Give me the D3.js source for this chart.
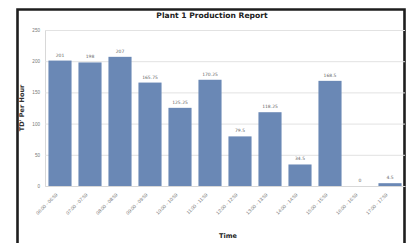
<!DOCTYPE html>
<html>
<head>
<meta charset="utf-8">
<script src="https://cdn.jsdelivr.net/npm/d3@7"></script>
<style>
  body { margin: 0; background: #fff; }
  svg { display: block; font-family: "DejaVu Sans", sans-serif; }
</style>
</head>
<body>
<svg id="chart" width="409" height="243"></svg>
<script>
const hours = ['06:00 - 06:59', '07:00 - 07:59', '08:00 - 08:59', '09:00 - 09:59', '10:00 - 10:59', '11:00 - 11:59',
               '12:00 - 12:59', '13:00 - 13:59', '14:00 - 14:59', '15:00 - 15:59', '16:00 - 16:59', '17:00 - 17:59']
const perHour = [201, 198, 207, 165.75, 125.25, 170.25, 79.5, 118.25, 34.5, 168.5, 0, 4.5]
const yTicks = [0, 50, 100, 150, 200, 250]

const svg = d3.select('#chart')
const plotLeft = 45, plotRight = 405, plotTop = 30, plotBottom = 186

// frame round the picture
svg.append('path')
    .attr('d', `M17.5,243 V9.5 H404.5 V243`)
    .attr('fill', 'none')
    .attr('stroke', '#1e1e1e')
    .attr('stroke-width', 2.6)

const xScale = d3.scaleBand()
    .domain(hours)
    .range([plotLeft, plotRight])
    .paddingInner(0.23)
    .paddingOuter(0.115)
const yScale = d3.scaleLinear()
    .domain([0, 250])
    .range([plotBottom, plotTop])

// gridlines + y labels
const yAxis = d3.axisLeft(yScale)
    .tickValues(yTicks)
    .tickSize(-(plotRight - plotLeft))
    .tickPadding(5)
svg.append('g')
    .attr('transform', `translate(${plotLeft},0)`)
    .call(yAxis)
    .call(g => g.select('.domain').attr('stroke', '#d8d8d8'))
    .call(g => g.selectAll('.tick line').attr('stroke', '#e2e2e2'))
    .call(g => g.selectAll('.tick text').attr('fill', '#777').style('font-size', '4.6px'))

// bars
svg.append('g')
    .selectAll('rect')
    .data(perHour)
    .enter()
    .append('rect')
    .attr('x', (d, i) => xScale(hours[i]))
    .attr('y', d => yScale(d))
    .attr('width', xScale.bandwidth())
    .attr('height', d => yScale(0) - yScale(d))
    .attr('fill', '#6a88b5')

// value labels
svg.append('g')
    .selectAll('text')
    .data(perHour)
    .enter()
    .append('text')
    .attr('x', (d, i) => xScale(hours[i]) + xScale.bandwidth() / 2)
    .attr('y', d => yScale(d) - 4)
    .attr('text-anchor', 'middle')
    .attr('fill', '#666')
    .style('font-size', '4.5px')
    .text(d => d)

// x axis
const xAxis = d3.axisBottom(xScale).tickSize(0).tickPadding(0)
svg.append('g')
    .attr('transform', `translate(0,${plotBottom})`)
    .call(xAxis)
    .call(g => g.select('.domain').attr('stroke', '#d8d8d8'))
    .call(g => g.selectAll('.tick text')
        .attr('fill', '#777')
        .style('font-size', '4.8px')
        .attr('text-anchor', 'end')
        .attr('dy', 0)
        .attr('transform', 'translate(-2,9) rotate(-45)'))

// titles
svg.append('text')
    .attr('x', 212).attr('y', 18)
    .attr('text-anchor', 'middle')
    .style('font-size', '7.6px').style('font-weight', 'bold')
    .attr('fill', '#222')
    .text('Plant 1  Production Report')

svg.append('text')
    .attr('transform', `translate(24,${(plotTop + plotBottom) / 2}) rotate(-90)`)
    .attr('text-anchor', 'middle')
    .style('font-size', '6.5px').style('font-weight', 'bold')
    .attr('fill', '#333')
    .text("TD' Per Hour")

svg.append('text')
    .attr('x', 228).attr('y', 238)
    .attr('text-anchor', 'middle')
    .style('font-size', '6.5px').style('font-weight', 'bold')
    .attr('fill', '#222')
    .text('Time')
</script>
</body>
</html>
